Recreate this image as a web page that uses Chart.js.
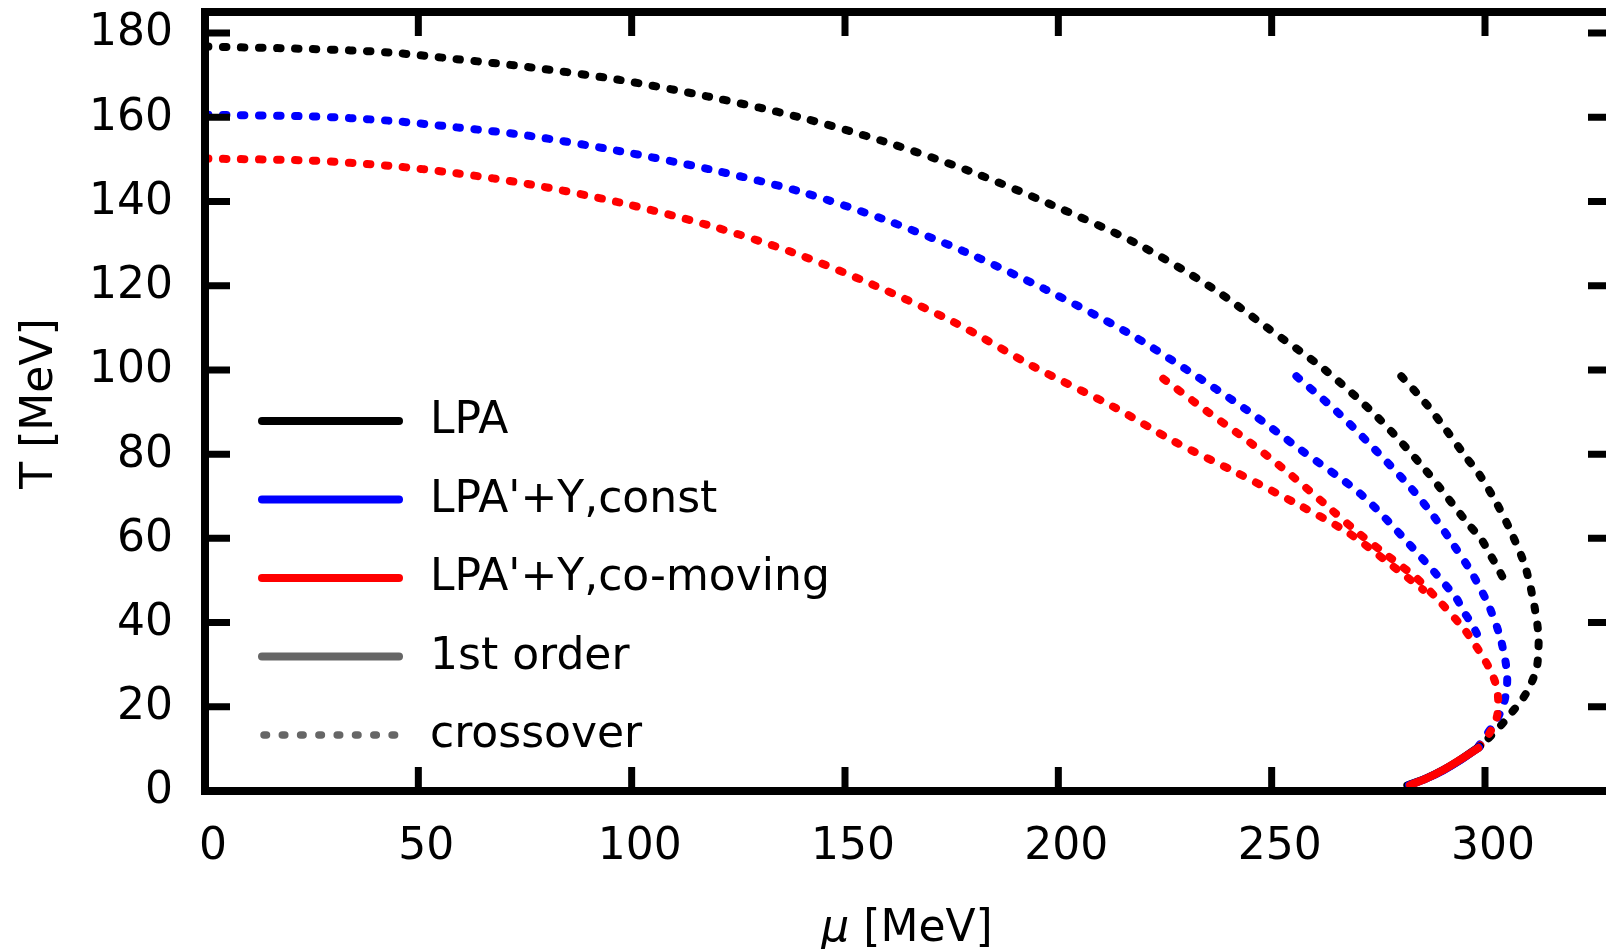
<!DOCTYPE html>
<html>
<head>
<meta charset="utf-8">
<title>T - mu phase diagram</title>
<script src="https://cdn.jsdelivr.net/npm/chart.js@4.4.1/dist/chart.umd.min.js"></script>
<style>
  html, body { margin: 0; padding: 0; background: #fff; overflow: hidden; }
  #wrap { width: 1606px; height: 949px; overflow: hidden; }
  canvas { display: block; }
</style>
</head>
<body>
<div id="wrap"><canvas id="phaseChart" width="1620" height="949"></canvas></div>
<script>
// ===== DATA (mu, T in MeV) =====

// LPA
const lpaCrossMu  = [0, 25, 43, 59, 76, 97, 118, 139, 159, 179, 198, 218, 236, 249, 262.5, 275, 286, 296, 299, 301, 303, 305];
const lpaCrossT   = [176.8, 176.2, 175.4, 173.8, 171.9, 168.9, 164.9, 160.1, 154.3, 147.3, 139.4, 130.2, 119.5, 110, 100, 88.6, 76.3, 63.5, 60, 56.5, 53, 49];
const lpaCross2Mu = [280.4, 286, 291, 295.7, 298.4, 302.7, 306.2, 309.3, 311.3, 312.5, 312.5, 312.1, 310.5, 308.6, 305.8, 303.5, 300.4];
const lpaCross2T  = [98.5, 92.2, 85.6, 79.1, 75.6, 68.4, 61.3, 53.7, 45.4, 37.5, 33.1, 29.2, 24.8, 21.6, 18.1, 15.3, 12.1];
const lpaFirstMu  = [298.8, 294.2, 290.2, 286.2, 281.8];
const lpaFirstT   = [10.6, 7.4, 5, 3, 1.3];

// LPA'+Y, const
const constCrossMu  = [0, 25, 43, 59, 76, 97, 118, 139, 159, 178, 197, 216, 230, 244, 257, 271, 282, 293, 295, 297, 299];
const constCrossT   = [160.6, 160.2, 159.2, 157.6, 155.6, 152, 147.7, 142.5, 135.8, 128.1, 119.1, 109, 100.1, 90.6, 80.9, 70.4, 58.9, 46.2, 42.6, 39.5, 35.5];
const constCross2Mu = [255.8, 265.6, 274.2, 282.8, 288, 292.6, 296.9, 300.8, 303.5, 305.1, 305.1, 304.3, 302.7, 298.4];
const constCross2T  = [98.5, 89.8, 81.1, 71.8, 65.2, 58.5, 51.8, 44.2, 36.7, 28.8, 24.4, 20.5, 16.9, 10.5];
const constFirstMu  = [298.6, 294.2, 290.2, 286.3, 282.2];
const constFirstT   = [10.4, 7.3, 4.9, 3, 1.4];

// LPA'+Y, co-moving
const comovCrossMu  = [0, 25, 43, 59, 76, 97, 117.5, 137.5, 156.6, 175.8, 194, 213, 227, 242, 257, 268, 278, 285.5];
const comovCrossT   = [150.2, 149.7, 148.5, 146.7, 144.1, 139.8, 134.5, 128, 120.2, 111.2, 100.9, 91.2, 83.1, 75.5, 67.6, 61.3, 53.7, 47.8];
const comovCross2Mu = [224.6, 234.8, 244.9, 254.7, 264, 270.3, 276.9, 283.9, 289.4, 294.9, 297.2, 299.2, 301.2, 302.7, 303.1, 302.7, 300.8, 298.4];
const comovCross2T  = [97.9, 90.2, 82.8, 74.9, 66.8, 61.3, 56.1, 50.6, 45, 38.7, 35.5, 32.3, 28.8, 24.8, 20.9, 17.3, 13.3, 10.2];
const comovFirstMu  = [298.4, 294.1, 290.2, 286.3, 282.4];
const comovFirstT   = [10.2, 7.4, 5, 3, 1.4];

// axes
const xTickValues = [0, 50, 100, 150, 200, 250, 300];
const yTickValues = [0, 20, 40, 60, 80, 100, 120, 140, 160, 180];

// legend
const legendLabels = ['LPA', "LPA'+Y,const", "LPA'+Y,co-moving", '1st order', 'crossover'];
const legendColors = ['#000000', '#0000ff', '#ff0000', '#666666', '#666666'];
const legendDotted = [false, false, false, false, true];

// ===== HELPERS =====
const FONT = '"DejaVu Sans", Verdana, sans-serif';

function pts(mu, t) {
  return mu.map((m, i) => ({ x: m, y: t[i] }));
}

function crossover(mu, t, color, order) {
  return {
    data: pts(mu, t),
    borderColor: color,
    borderWidth: 8,
    borderDash: [3.5, 14.5],
    borderCapStyle: 'round',
    pointRadius: 0,
    tension: 0.3,
    fill: false,
    order
  };
}

function firstOrder(mu, t, color, order) {
  return {
    data: pts(mu, t),
    borderColor: color,
    borderWidth: 8,
    borderCapStyle: 'round',
    pointRadius: 0,
    tension: 0.3,
    fill: false,
    order
  };
}

// ===== FRAME + INNER TICKS =====
const framePlugin = {
  id: 'frame',
  afterDatasetsDraw(chart) {
    const { ctx, chartArea: a, scales: { x, y } } = chart;
    ctx.save();
    ctx.strokeStyle = '#000';
    ctx.lineWidth = 7;
    ctx.lineCap = 'butt';
    ctx.beginPath();
    xTickValues.forEach(v => {
      const px = x.getPixelForValue(v);
      ctx.moveTo(px, a.bottom); ctx.lineTo(px, a.bottom - 24);
      ctx.moveTo(px, a.top);    ctx.lineTo(px, a.top + 24);
    });
    yTickValues.forEach(v => {
      const py = y.getPixelForValue(v);
      ctx.moveTo(a.left, py);  ctx.lineTo(a.left + 25, py);
      ctx.moveTo(a.right, py); ctx.lineTo(a.right - 25, py);
    });
    ctx.stroke();
    ctx.lineWidth = 8;
    ctx.strokeRect(a.left, a.top, a.right - a.left, a.bottom - a.top);
    ctx.restore();
  }
};

// ===== LEGEND + AXIS TITLES =====
const decorPlugin = {
  id: 'decor',
  afterDraw(chart) {
    const { ctx, chartArea: a } = chart;
    ctx.save();

    // legend
    legendLabels.forEach((label, i) => {
      const ly = a.top + 409 + i * 78.5;
      ctx.strokeStyle = legendColors[i];
      ctx.lineCap = 'round';
      if (legendDotted[i]) {
        ctx.lineWidth = 7.5;
        ctx.setLineDash([2.5, 15.8]);
        ctx.beginPath(); ctx.moveTo(a.left + 59, ly); ctx.lineTo(a.left + 196, ly); ctx.stroke();
        ctx.setLineDash([]);
      } else {
        ctx.lineWidth = 8;
        ctx.beginPath(); ctx.moveTo(a.left + 57, ly); ctx.lineTo(a.left + 194, ly); ctx.stroke();
      }
      ctx.fillStyle = '#000';
      ctx.font = '44px ' + FONT;
      ctx.textAlign = 'left';
      ctx.textBaseline = 'middle';
      ctx.fillText(label, a.left + 225, ly + 1);
    });

    // x title: italic mu + [MeV]
    ctx.fillStyle = '#000';
    ctx.textBaseline = 'alphabetic';
    ctx.textAlign = 'left';
    ctx.font = 'italic 44px ' + FONT;
    const mu = '\u03bc';
    const muW = ctx.measureText(mu).width;
    ctx.font = '44px ' + FONT;
    const rest = ' [MeV]';
    const restW = ctx.measureText(rest).width;
    const cx = (a.left + a.right) / 2 - 2;
    const x0 = cx - (muW + restW) / 2;
    ctx.font = 'italic 44px ' + FONT;
    ctx.fillText(mu, x0, 941);
    ctx.font = '44px ' + FONT;
    ctx.fillText(rest, x0 + muW, 941);

    // y title
    ctx.save();
    ctx.translate(52, (a.top + a.bottom) / 2 + 2);
    ctx.rotate(-Math.PI / 2);
    ctx.textAlign = 'center';
    ctx.fillText('T [MeV]', 0, 0);
    ctx.restore();

    ctx.restore();
  }
};

// ===== CHART =====
Chart.defaults.font.family = FONT;
Chart.defaults.font.size = 44;
Chart.defaults.color = '#000';

new Chart(document.getElementById('phaseChart'), {
  type: 'line',
  data: {
    datasets: [
      firstOrder(comovFirstMu, comovFirstT, '#ff0000', 0),
      firstOrder(constFirstMu, constFirstT, '#0000ff', 1),
      firstOrder(lpaFirstMu, lpaFirstT, '#000000', 2),
      crossover(comovCrossMu, comovCrossT, '#ff0000', 3),
      crossover(comovCross2Mu, comovCross2T, '#ff0000', 3),
      crossover(constCrossMu, constCrossT, '#0000ff', 4),
      crossover(constCross2Mu, constCross2T, '#0000ff', 4),
      crossover(lpaCrossMu, lpaCrossT, '#000000', 5),
      crossover(lpaCross2Mu, lpaCross2T, '#000000', 5)
    ]
  },
  options: {
    responsive: false,
    animation: false,
    devicePixelRatio: 1,
    layout: { padding: { top: 12, right: 7, left: 0, bottom: 0 } },
    plugins: { legend: { display: false }, tooltip: { enabled: false } },
    scales: {
      x: {
        type: 'linear',
        min: 0, max: 330,
        grid: { display: false, drawTicks: false },
        border: { display: false },
        afterBuildTicks: s => { s.ticks = xTickValues.map(v => ({ value: v })); },
        afterFit: s => { s.height = 158; s.paddingLeft = 0; s.paddingRight = 0; },
        ticks: { padding: 30, labelOffset: 8, maxRotation: 0, autoSkip: false }
      },
      y: {
        type: 'linear',
        min: 0, max: 185,
        grid: { display: false, drawTicks: false },
        border: { display: false },
        afterBuildTicks: s => { s.ticks = yTickValues.map(v => ({ value: v })); },
        afterFit: s => { s.width = 205; s.paddingTop = 0; s.paddingBottom = 0; },
        ticks: { padding: 32, labelOffset: 1, autoSkip: false }
      }
    }
  },
  plugins: [framePlugin, decorPlugin]
});
</script>
</body>
</html>
